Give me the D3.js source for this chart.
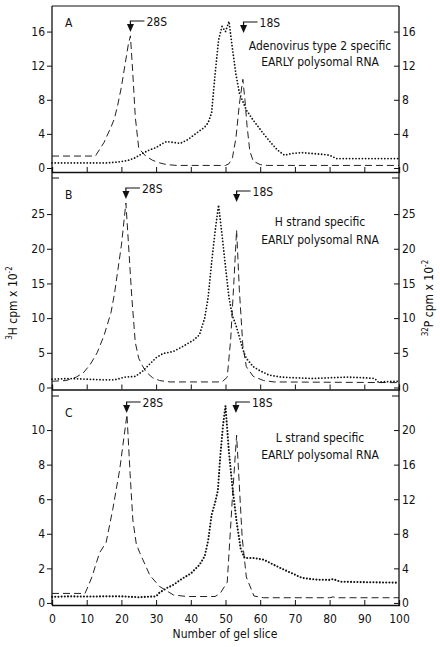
<!DOCTYPE html>
<html>
<head>
<meta charset="utf-8">
<script src="https://cdn.jsdelivr.net/npm/d3@7/dist/d3.min.js"></script>
<style>
  body { margin: 0; background: #fff; }
  text { font-family: "Liberation Sans Narrow", "DejaVu Sans Condensed", sans-serif; fill: #111; }
</style>
</head>
<body>
<svg id="chart" width="440" height="647"></svg>
<script>
// gel slice vs counts (left axis units)
var aSample = [[0,0.6],[4,0.6],[8,0.6],[12,0.6],[16,0.6],[19,0.7],[22,0.9],[24,1.2],[26,1.7],[28,2.1],[30,2.4],[32,2.9],[33,3.1],[35,3.0],[37,2.9],[39,3.3],[42,4.2],[44,4.8],[45,5.3],[46,6.5],[47,11],[48,15],[49,16.6],[50,16.0],[51,17.2],[52,14],[53,11],[54,8.8],[55,7.8],[56,6.8],[58,5.6],[61,4.0],[63,3.0],[65,2.1],[67,1.5],[69,1.7],[72,1.8],[75,1.7],[78,1.6],[80,1.5],[82,1.1],[90,1.1],[100,1.1]];
var aMarker = [[0,1.4],[6,1.4],[12.5,1.4],[15,3.0],[17,4.8],[18,5.8],[19,7.5],[20,9.5],[21,12],[22,14.5],[22.6,15.5],[23.3,11],[24,6],[25,2.3],[27,1.4],[29,0.9],[31,0.6],[33,0.4],[36,0.3],[50,0.3],[51,0.5],[52,1.2],[53,3.5],[54,7.5],[55,10.4],[55.6,8],[56.2,5],[57,2],[58,0.8],[60,0.4],[62,0.3],[100,0.3]];

var bSample = [[0,1.2],[5,1.3],[10,1.2],[15,1.1],[18,1.1],[21,1.5],[24,1.6],[26,2.3],[28,3.3],[30,4.3],[32,4.9],[35,5.2],[38,6.0],[41,6.9],[42.5,7.6],[44,10],[45,13],[46,18],[47,22.5],[48,26.3],[49,22],[50,17.4],[51,13],[52,10.3],[53,9],[54,7.3],[55,5.5],[56,4.2],[58,3.0],[60,2.4],[62.5,1.8],[66,1.5],[70,1.4],[75,1.3],[80,1.4],[85,1.5],[90,1.4],[93,1.3],[94,0.8],[100,0.9]];
var bMarker = [[0,0.9],[4,1.0],[7,1.5],[9,2.1],[11,3.3],[13,5.0],[15,7.5],[17,10.8],[18,13.5],[19,17],[20,20.5],[21.3,26.6],[22,21],[23,13],[24,6.5],[25,4.2],[26,3.2],[27,2.3],[29,1.4],[31,1.0],[34,0.8],[49,0.8],[50.5,1.5],[51.5,7],[52.5,16],[53.2,22.7],[54,14],[55,6],[56,3],[58,1.6],[61,1.0],[64,0.8],[100,0.7]];

var cSample = [[0,0.35],[5,0.38],[10,0.37],[15,0.38],[20,0.38],[25,0.33],[30,0.38],[31,0.6],[33,0.85],[35,1.05],[37.5,1.4],[40,1.7],[42.5,2.2],[44,2.7],[45,3.6],[46,5.1],[47,5.8],[47.8,6.5],[48.5,8.5],[49.3,10.3],[50,11.4],[51,8.7],[52,6.7],[53.2,4.7],[54.4,3.1],[55.5,2.6],[58,2.6],[61,2.5],[63,2.3],[66,2.0],[69,1.73],[72,1.45],[76,1.35],[80,1.33],[81,1.38],[83,1.23],[90,1.2],[100,1.17]];
var cMarker = [[0,0.55],[9.5,0.55],[10.5,1.0],[11.5,1.5],[13.7,2.9],[15.6,3.5],[17.5,5.4],[19.5,7.7],[21.6,10.9],[22.5,7.5],[23.3,4.8],[24.3,3.4],[25.3,2.9],[28.2,1.6],[31,0.95],[35,0.46],[39,0.37],[47,0.37],[48.5,0.56],[50.5,1.2],[51.9,5.8],[53.2,9.7],[54.8,3.8],[56,1.5],[58.2,0.4],[61,0.3],[80,0.3],[81,0.35],[82,0.3],[100,0.3]];

var leftTicksA = [0,4,8,12,16], rightTicksA = [0,4,8,12,16];
var leftTicksB = [0,5,10,15,20,25], rightTicksB = [0,5,10,15,20,25];
var leftTicksC = [0,2,4,6,8,10], rightTicksC = [0,4,8,12,16,20];
var sliceTicks = [0,10,20,30,40,50,60,70,80,90,100];

var panelLetters = ["A","B","C"];
var panelTitles = [["Adenovirus type 2 specific","EARLY polysomal RNA"],
                   ["H strand specific","EARLY polysomal RNA"],
                   ["L strand specific","EARLY polysomal RNA"]];
var arrows28S = [22.6, 21.3, 21.5];   // slice of 28S marker
var arrows18S = [55.2, 53.2, 53.0];   // slice of 18S marker

var svg = d3.select("#chart");
var left = 52, right = 399;

var x = d3.scaleLinear().domain([0,100]).range([left, right]);

// layout of each panel: pixel top/bottom and value domain of left axis, right axis factor
var panels = [
  {top: 6,   bottom: 172,   lo: -0.47, hi: 19.0,  rf: 1, sample: aSample, marker: aMarker, lt: leftTicksA, rt: rightTicksA, arrowY: [21, 22]},
  {top: 178, bottom: 389.5, lo: -0.29, hi: 30.2,  rf: 1, sample: bSample, marker: bMarker, lt: leftTicksB, rt: rightTicksB, arrowY: [188, 191]},
  {top: 396, bottom: 605,   lo: -0.12, hi: 11.97, rf: 2, sample: cSample, marker: cMarker, lt: leftTicksC, rt: rightTicksC, arrowY: [402, 402]}
];

panels.forEach(function(p, i) {
  var y = d3.scaleLinear().domain([p.lo, p.hi]).range([p.bottom, p.top]);
  var yR = d3.scaleLinear().domain([p.lo * p.rf, p.hi * p.rf]).range([p.bottom, p.top]);
  var g = svg.append("g").attr("class", "panel");

  var line = d3.line()
      .x(function(d) { return x(d[0]); })
      .y(function(d) { return y(d[1]); });

  // marker RNA, dashed
  g.append("path")
      .datum(p.marker)
      .attr("d", line)
      .attr("fill", "none")
      .attr("stroke", "#222")
      .attr("stroke-width", 1)
      .attr("stroke-dasharray", "7,4");

  // viral RNA, dotted
  g.append("path")
      .datum(p.sample)
      .attr("d", line)
      .attr("fill", "none")
      .attr("stroke", "#111")
      .attr("stroke-width", i == 2 ? 2.1 : 1.8)
      .attr("stroke-linecap", "round")
      .attr("stroke-dasharray", "0,3.2");

  // axes
  g.append("g")
      .attr("transform", "translate(" + left + ",0)")
      .call(d3.axisLeft(y).tickValues(p.lt).tickSize(5).tickPadding(2))
      .call(function(a) { a.select(".domain").remove(); });

  g.append("g")
      .attr("transform", "translate(" + right + ",0)")
      .call(d3.axisRight(yR).tickValues(p.rt).tickSize(-5).tickPadding(3))
      .call(function(a) { a.select(".domain").remove(); });

  var xa = d3.axisBottom(x).tickValues(sliceTicks).tickSize(-5).tickPadding(9);
  if (i < 2) xa.tickFormat("");
  g.append("g")
      .attr("transform", "translate(0," + p.bottom + ")")
      .call(xa);

  g.selectAll(".tick text").attr("font-size", 12).style("font-family", null);
  g.selectAll(".tick line").attr("stroke", "#111");
  g.selectAll(".domain").attr("stroke", "#111").attr("stroke-width", 1.3);

  // top edge: full line on A, corner ticks on B and C
  if (i == 0) {
    g.append("line").attr("x1", left).attr("x2", right).attr("y1", p.top).attr("y2", p.top)
        .attr("stroke", "#111").attr("stroke-width", 1.2);
  } else {
    g.append("line").attr("x1", left).attr("x2", left + 7).attr("y1", p.top).attr("y2", p.top)
        .attr("stroke", "#111");
    g.append("line").attr("x1", right - 7).attr("x2", right).attr("y1", p.top).attr("y2", p.top)
        .attr("stroke", "#111");
  }

  g.append("text")
      .attr("x", left + 13).attr("y", p.top + 21)
      .attr("font-size", 12)
      .text(panelLetters[i]);

  var tx = 320, ty = [50, 226, 442][i];
  var gap = [16, 18, 17][i];
  panelTitles[i].forEach(function(t, k) {
    g.append("text")
        .attr("x", tx).attr("y", ty + k * gap)
        .attr("text-anchor", "middle")
        .attr("font-size", 12)
        .text(t);
  });

  // 28S / 18S arrows
  [[arrows28S[i], "28S", p.arrowY[0]], [arrows18S[i], "18S", p.arrowY[1]]].forEach(function(a) {
    var ax = x(a[0]), ay = a[2];
    g.append("path")
        .attr("d", "M" + (ax + 14) + "," + ay + "H" + ax + "V" + (ay + 7))
        .attr("fill", "none").attr("stroke", "#111").attr("stroke-width", 1.2);
    g.append("path")
        .attr("d", "M" + (ax - 3.5) + "," + (ay + 3) + "L" + (ax + 3.5) + "," + (ay + 3) + "L" + ax + "," + (ay + 11) + "Z")
        .attr("fill", "#111");
    g.append("text")
        .attr("x", ax + 16).attr("y", ay + 4.5)
        .attr("font-size", 12)
        .text(a[1]);
  });
});

// continuous left / right axis lines
svg.append("line").attr("x1", left).attr("x2", left).attr("y1", 6).attr("y2", 605)
    .attr("stroke", "#111").attr("stroke-width", 1.3);
svg.append("line").attr("x1", right).attr("x2", right).attr("y1", 6).attr("y2", 605)
    .attr("stroke", "#111").attr("stroke-width", 1.3);

// axis titles
var yl = svg.append("text")
    .attr("transform", "translate(17,303) rotate(-90)")
    .attr("text-anchor", "middle")
    .attr("font-size", 12);
yl.append("tspan").attr("font-size", 8).attr("dy", -5).text("3");
yl.append("tspan").attr("dy", 5).text("H cpm x 10");
yl.append("tspan").attr("font-size", 8).attr("dy", -5).text("-2");

var yr = svg.append("text")
    .attr("transform", "translate(433,298) rotate(-90)")
    .attr("text-anchor", "middle")
    .attr("font-size", 12);
yr.append("tspan").attr("font-size", 8).attr("dy", -5).text("32");
yr.append("tspan").attr("dy", 5).text("P cpm x 10");
yr.append("tspan").attr("font-size", 8).attr("dy", -5).text("-2");

svg.append("text")
    .attr("x", 225).attr("y", 638)
    .attr("text-anchor", "middle")
    .attr("font-size", 12)
    .text("Number of gel slice");
</script>
</body>
</html>
